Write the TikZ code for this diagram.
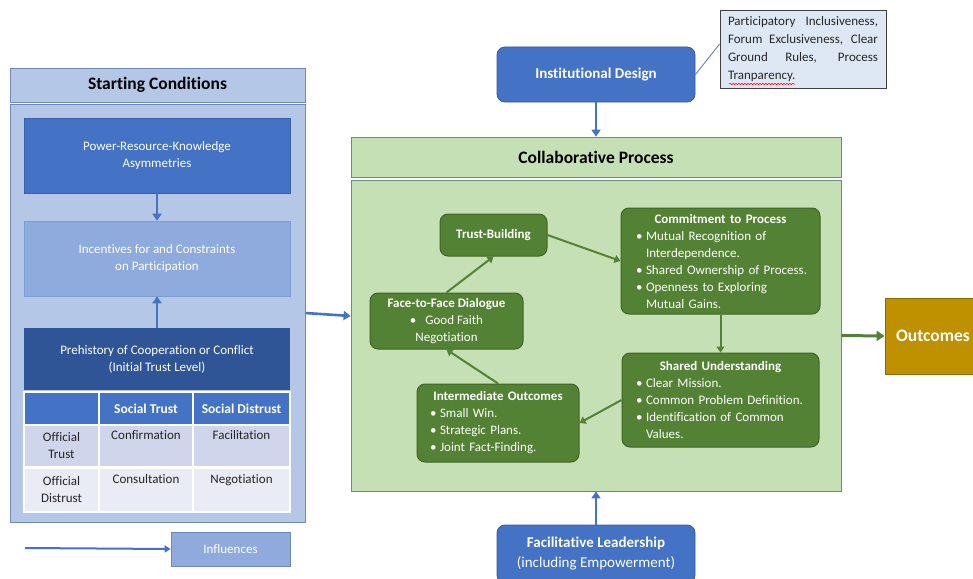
\documentclass[tikz,border=0pt]{standalone}
\usepackage{fontspec}
\setmainfont{Carlito}[Ligatures=NoCommon]
\usetikzlibrary{arrows.meta,decorations.pathmorphing}
\definecolor{panelblue}{HTML}{B4C7E7}
\definecolor{panelline}{HTML}{6F8AB8}
\definecolor{midblue}{HTML}{4472C4}
\definecolor{lightblue}{HTML}{8FAADC}
\definecolor{darkblue}{HTML}{2F5597}
\definecolor{rowone}{HTML}{CFD5EA}
\definecolor{rowtwo}{HTML}{E9EBF5}
\definecolor{lgreen}{HTML}{C5E0B4}
\definecolor{lgreenline}{HTML}{6B8C77}
\definecolor{dgreen}{HTML}{548235}
\definecolor{dgreenline}{HTML}{3E6427}
\definecolor{gold}{HTML}{BF9000}
\definecolor{goldline}{HTML}{8C6A00}
\definecolor{notefill}{HTML}{DEE8F5}
\definecolor{textdark}{HTML}{262626}
\newcommand\setfs[2]{\fontsize{#1}{#2}\selectfont}
\newcommand\gbul[2]{\hspace*{#1pt}\makebox[10pt][l]{\textbullet}#2}
\newcommand\gind[2]{\hspace*{#1pt}#2}
\begin{document}
\begin{tikzpicture}[x=1pt,y=-1pt,
  dims/.style 2 args={minimum width=#1, minimum height=#2},
  flat/.style={inner sep=0pt, align=center},
  panel/.style={flat, draw=panelline, fill=panelblue, line width=1pt},
  gbox/.style={inner ysep=0pt, inner xsep=0pt, fill=dgreen, draw=dgreenline, line width=1pt,
    rounded corners=8pt, text=white, font=\setfs{13}{17}, align=left},
  bbox/.style={flat, fill=midblue, draw=midblue!80!black, line width=0.8pt, rounded corners=8pt, text=white},
  cell/.style={flat, draw=white, line width=1.2pt, font=\setfs{13}{17}, text=textdark},
  barr/.style={draw=midblue, line width=2.6pt, -{Triangle[length=7pt,width=9pt]}},
  garr/.style={draw=dgreen, line width=2pt, -{Triangle[length=6pt,width=8pt]}}
]
\useasboundingbox (0,0) rectangle (973,578);
\fill[white] (0,0) rectangle (973,578);

% ---------- Starting conditions ----------
\node[panel, dims={295pt}{34pt}, font=\bfseries\setfs{17.5}{20}, text=black] (schead) at (157.5,85) {Starting Conditions};
\node[panel, dims={295pt}{418pt}] (scpanel) at (157.5,313) {};
\node[flat, dims={266pt}{75pt}, fill=midblue, draw=midblue!85!black, line width=0.6pt, text=white, font=\setfs{13}{17}] (power) at (157,155.5) {Power-Resource-Knowledge\\Asymmetries};
\node[flat, dims={266pt}{75pt}, fill=lightblue, draw=midblue!70, line width=0.6pt, text=white, font=\setfs{13}{17}] (incent) at (157,258.5) {Incentives for and Constraints\\on Participation};
\node[flat, dims={266pt}{62pt}, fill=darkblue, text=white, font=\setfs{13}{17}] (prehist) at (157,359) {Prehistory of Cooperation or Conflict\\(Initial Trust Level)};
\draw[barr] (power.south) -- (incent.north);
\draw[barr] (prehist.north) -- (incent.south);

% table
\node[cell, dims={75pt}{33pt}, fill=midblue] (th0) at (61.5,408.5) {};
\node[cell, dims={93pt}{33pt}, fill=midblue, text=white, font=\bfseries\setfs{13.5}{17}] (th1) at (146,408.5) {Social Trust};
\node[cell, dims={97pt}{33pt}, fill=midblue, text=white, font=\bfseries\setfs{13.5}{17}] (th2) at (241.5,408.5) {Social Distrust};
\node[cell, dims={75pt}{42pt}, fill=rowone] (r1c0) at (61.5,446) {Official\\Trust};
\node[cell, dims={93pt}{42pt}, fill=rowone] (r1c1) at (146,446) {Confirmation\\\strut};
\node[cell, dims={97pt}{42pt}, fill=rowone] (r1c2) at (241.5,446) {Facilitation\\\strut};
\node[cell, dims={75pt}{44pt}, fill=rowtwo] (r2c0) at (61.5,490) {Official\\Distrust};
\node[cell, dims={93pt}{44pt}, fill=rowtwo] (r2c1) at (146,490) {Consultation\\\strut};
\node[cell, dims={97pt}{44pt}, fill=rowtwo] (r2c2) at (241.5,490) {Negotiation\\\strut};

% legend
\node[flat, dims={119pt}{34pt}, fill=lightblue, draw=panelline, line width=0.8pt, text=white, font=\setfs{13}{17}] (infl) at (230.5,549) {Influences};
\coordinate (legstart) at (25,548);
\draw[draw=midblue, line width=2pt, -{Triangle[length=6pt,width=7pt]}] (legstart) -- (infl.west);

% ---------- Institutional design ----------
\node[bbox, dims={198pt}{55pt}, font=\bfseries\setfs{15}{18}] (instdes) at (596,74.5) {Institutional Design};
\node[flat, dims={166pt}{78pt}, fill=notefill, draw=black!75, line width=0.8pt, font=\setfs{13}{17.7}, text=textdark, align=left] (note) at (803,49)
  {\makebox[150pt][s]{Participatory Inclusiveness,}\\
   \makebox[150pt][s]{Forum Exclusiveness, Clear}\\
   \makebox[150pt][s]{Ground Rules, Process}\\
   \makebox[150pt][l]{Tranparency.}};
\draw[red, line width=0.5pt, decorate, decoration={snake, amplitude=0.7pt, segment length=3pt}] (729,84) -- (795,84);
\draw[draw=panelline, line width=1pt] (instdes.east) -- ([yshift=5pt]note.west);

% ---------- Collaborative process ----------
\node[flat, dims={490pt}{40pt}, fill=lgreen, draw=lgreenline, line width=0.8pt, font=\bfseries\setfs{17.5}{20}, text=black] (collhead) at (596,157) {Collaborative Process};
\node[flat, dims={490pt}{311pt}, fill=lgreen, draw=lgreenline, line width=0.8pt] (collbody) at (596,335.5) {};
\draw[barr] (instdes.south) -- (collhead.north);

\node[gbox, dims={107pt}{42pt}, text width=107pt] (trust) at (493.5,235)
  {\makebox[107pt]{\bfseries Trust-Building}};
\node[gbox, dims={199pt}{106pt}, text width=199pt] (commit) at (720.5,261)
  {\makebox[199pt]{\bfseries Commitment to Process}\\
   \gbul{15}{Mutual Recognition of}\\
   \gind{25}{Interdependence.}\\
   \gbul{15}{Shared Ownership of Process.}\\
   \gbul{15}{Openness to Exploring}\\
   \gind{25}{Mutual Gains.}};
\node[gbox, dims={197pt}{94pt}, text width=197pt] (shared) at (720.5,400)
  {\makebox[197pt]{\bfseries Shared Understanding}\\
   \gbul{14}{Clear Mission.}\\
   \gbul{14}{Common Problem Definition.}\\
   \gbul{14}{Identification of Common}\\
   \gind{24}{Values.}};
\node[gbox, dims={162pt}{78pt}, text width=162pt] (inter) at (498,423)
  {\makebox[162pt]{\bfseries Intermediate Outcomes}\\
   \gbul{13}{Small Win.}\\
   \gbul{13}{Strategic Plans.}\\
   \gbul{13}{Joint Fact-Finding.}};
\node[gbox, dims={153pt}{56pt}, align=center] (face) at (446.5,321)
  {\textbf{Face-to-Face Dialogue}\\
   \textbullet\hspace{9pt}Good Faith\\
   Negotiation};

\draw[garr] (trust.east) -- (commit.west);
\draw[garr] (commit.south) -- (shared.north);
\draw[garr] (shared.west) -- (inter.east);
\draw[garr] (inter.north) -- (face.south);
\draw[garr] (face.north) -- (trust.south);

% ---------- Outcomes ----------
\node[flat, dims={96pt}{76pt}, fill=gold, draw=goldline, line width=0.8pt, text=white, font=\bfseries\setfs{17.5}{20}] (outc) at (933,336) {Outcomes};
\draw[draw=dgreen, line width=3pt, -{Triangle[length=8pt,width=10pt]}] (collbody.east) -- (outc.west);

% ---------- Facilitative leadership ----------
\node[bbox, dims={198pt}{58pt}, font=\setfs{15}{20}] (facil) at (596,554) {\textbf{Facilitative Leadership}\\(including Empowerment)};
\draw[barr] (facil.north) -- (collbody.south);

% ---------- Starting conditions to process ----------
\draw[barr] (scpanel.east) -- ([yshift=-3pt]collbody.west |- scpanel.east);
\end{tikzpicture}
\end{document}
